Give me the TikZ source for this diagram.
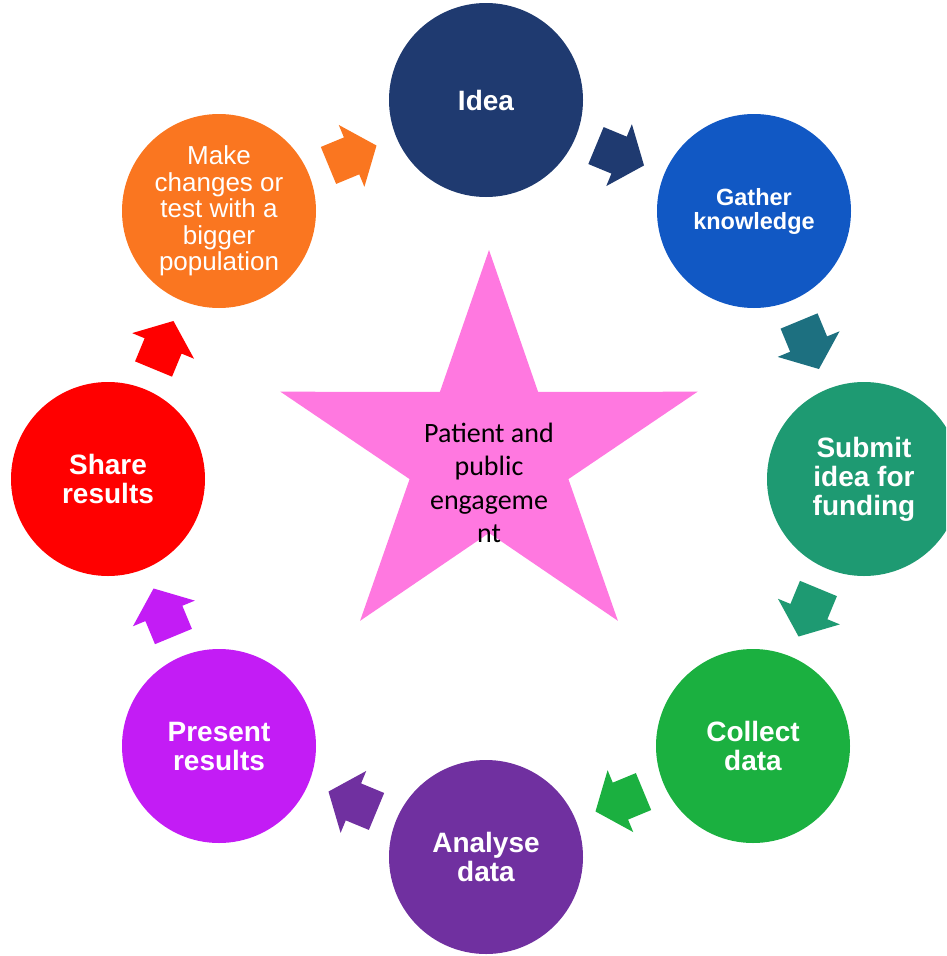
\documentclass[tikz,border=0pt]{standalone}
\usepackage{fontspec}
\setmainfont{Liberation Sans}
\newfontfamily\calibrifont{Carlito}
\usetikzlibrary{calc}
\definecolor{ideacol}{HTML}{1F3A70}
\definecolor{gathercol}{HTML}{1158C4}
\definecolor{tealcol}{HTML}{1D7080}
\definecolor{submitcol}{HTML}{1E9A72}
\definecolor{collectcol}{HTML}{1BB040}
\definecolor{analysecol}{HTML}{7030A0}
\definecolor{presentcol}{HTML}{C31CF5}
\definecolor{sharecol}{HTML}{FF0000}
\definecolor{makecol}{HTML}{FA7620}
\definecolor{starcol}{HTML}{FF78E0}
\begin{document}
\begin{tikzpicture}[x=1pt,y=-1pt,
  stage/.style={circle, minimum size=194pt, inner sep=0pt, text=white, align=center,
    font=\bfseries\fontsize{28}{29}\selectfont},
  pics/blockarrow/.style={code={
    \fill[#1] (-26,-20) -- (-1,-20) -- (-1,-33.5) -- (26,0) -- (-1,33.5) -- (-1,20) -- (-26,20) -- cycle;}}]
\useasboundingbox (0,0) rectangle (946,956);
\clip (0,0) rectangle (946,956);
% star
\fill[starcol] (489,250) -- (538.1,391.9) -- (697.6,391.7) -- (568.4,479.1) -- (617.9,620.8)
  -- (489,533) -- (360.1,620.8) -- (409.6,479.1) -- (280.4,391.7) -- (439.9,391.9) -- cycle;
\node[font=\calibrifont\fontsize{28}{33.5}\selectfont, align=center, inner sep=0pt] (ppe) at (489,483)
  {Patient and\\public\\engageme\\nt};
% stages
\node[stage, fill=ideacol] (idea) at (486,100) {Idea};
\node[stage, fill=gathercol, font=\bfseries\fontsize{23.5}{24}\selectfont] (gather) at (754,211) {Gather\\knowledge};
\node[stage, fill=submitcol] (submit) at (864,479) {Submit\\idea for\\funding};
\node[stage, fill=collectcol] (collect) at (753,746) {Collect\\data};
\node[stage, fill=analysecol] (analyse) at (486,857) {Analyse\\data};
\node[stage, fill=presentcol] (present) at (219,746) {Present\\results};
\node[stage, fill=sharecol] (share) at (108,479) {Share\\results};
\node[stage, fill=makecol, font=\fontsize{26}{26.5}\selectfont] (make) at (219,211)
  {Make\\changes or\\test with a\\bigger\\population};
% arrows
\pic[rotate=-22.5] at ($(idea)!0.5!(gather)$) {blockarrow=ideacol};
\pic[rotate=-67.5] at ($(gather)!0.5!(submit)$) {blockarrow=tealcol};
\pic[rotate=-112.5] at ($(submit)!0.5!(collect)$) {blockarrow=submitcol};
\pic[rotate=-157.5] at ($(collect)!0.5!(analyse)$) {blockarrow=collectcol};
\pic[rotate=157.5] at ($(analyse)!0.5!(present)$) {blockarrow=analysecol};
\pic[rotate=112.5] at ($(present)!0.5!(share)$) {blockarrow=presentcol};
\pic[rotate=67.5] at ($(share)!0.5!(make)$) {blockarrow=sharecol};
\pic[rotate=22.5] at ($(make)!0.5!(idea)$) {blockarrow=makecol};
\end{tikzpicture}
\end{document}
